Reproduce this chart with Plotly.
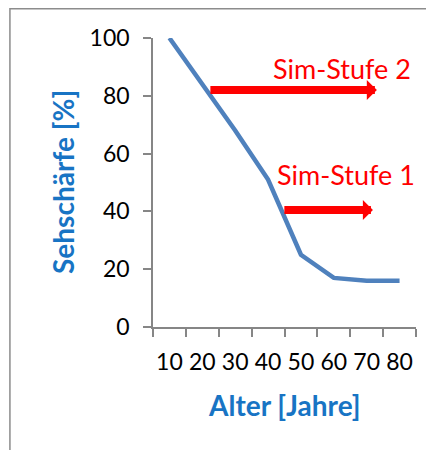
import plotly.graph_objects as go

# Data
alter = ["10", "20", "30", "40", "50", "60", "70", "80"]
sehschaerfe = [100, 84, 68, 51, 25, 17, 16, 16]

# Annotation arrows (category-index positions, value)
stufen_labels = ["Sim-Stufe 2", "Sim-Stufe 1"]
arrow_start = [1.20, 3.45]
arrow_end = [6.31, 6.19]
arrow_y = [82, 40.5]
label_x = [5.25, 5.37]
label_y = [89.6, 52.6]

FONT = "Lato"
AX_COL = "#868686"
TITLE_COL = "#1874C4"

fig = go.Figure()
fig.add_trace(go.Scatter(
    x=alter, y=sehschaerfe, mode="lines",
    line=dict(color="#4F81BD", width=4.5),
    showlegend=False, hoverinfo="skip",
))

annotations = []
for lab, xs, xe, ya, lx, ly in zip(stufen_labels, arrow_start, arrow_end, arrow_y, label_x, label_y):
    annotations.append(dict(
        x=xe, y=ya, ax=xs, ay=ya, xref="x", yref="y", axref="x", ayref="y",
        text="", showarrow=True, arrowhead=1, arrowsize=0.42, arrowwidth=8,
        arrowcolor="#FF0000", standoff=0, startstandoff=0,
    ))
    annotations.append(dict(
        x=lx, y=ly, xref="x", yref="y", text=lab, showarrow=False,
        font=dict(family=FONT, size=27, color="#FF0000"),
        xanchor="center", yanchor="middle",
    ))

# axis titles as annotations for exact placement
annotations.append(dict(
    x=0.5, y=-0.27, xref="paper", yref="paper", text="<b>Alter [Jahre]</b>",
    showarrow=False, xanchor="center", yanchor="middle",
    font=dict(family=FONT, size=28, color=TITLE_COL),
))
annotations.append(dict(
    x=-0.342, y=0.502, xref="paper", yref="paper", text="<b>Sehschärfe [%]</b>",
    showarrow=False, xanchor="center", yanchor="middle", textangle=-90,
    font=dict(family=FONT, size=28, color=TITLE_COL),
))

fig.update_layout(
    width=426, height=442,
    margin=dict(l=145, r=18, t=30, b=123),
    paper_bgcolor="white", plot_bgcolor="white",
    font=dict(family=FONT, size=23, color="black"),
    annotations=annotations,
    shapes=[dict(type="rect", xref="paper", yref="paper",
                 x0=-0.544, x1=1.2, y0=-0.6, y1=1.101,
                 line=dict(color="#8C8C8C", width=1.5), fillcolor="rgba(0,0,0,0)",
                 layer="below")],
    xaxis=dict(
        type="category", range=[-0.5, 7.5], tickson="boundaries",
        showline=True, linecolor=AX_COL, linewidth=1.5,
        ticks="outside", ticklen=8, tickcolor=AX_COL, tickwidth=1.5,
        showgrid=False, zeroline=False, tickangle=0, automargin=False,
        tickfont=dict(family=FONT, size=23, color="black"),
        ticklabelstandoff=14,
        fixedrange=True,
    ),
    yaxis=dict(
        range=[0, 100], tickvals=[0, 20, 40, 60, 80, 100],
        showline=True, linecolor=AX_COL, linewidth=1.5,
        ticks="outside", ticklen=8, tickcolor=AX_COL, tickwidth=1.5,
        showgrid=False, zeroline=False, automargin=False,
        tickfont=dict(family=FONT, size=23, color="black"),
        ticklabelstandoff=9,
        fixedrange=True,
    ),
)

fig.write_html("out.html")
